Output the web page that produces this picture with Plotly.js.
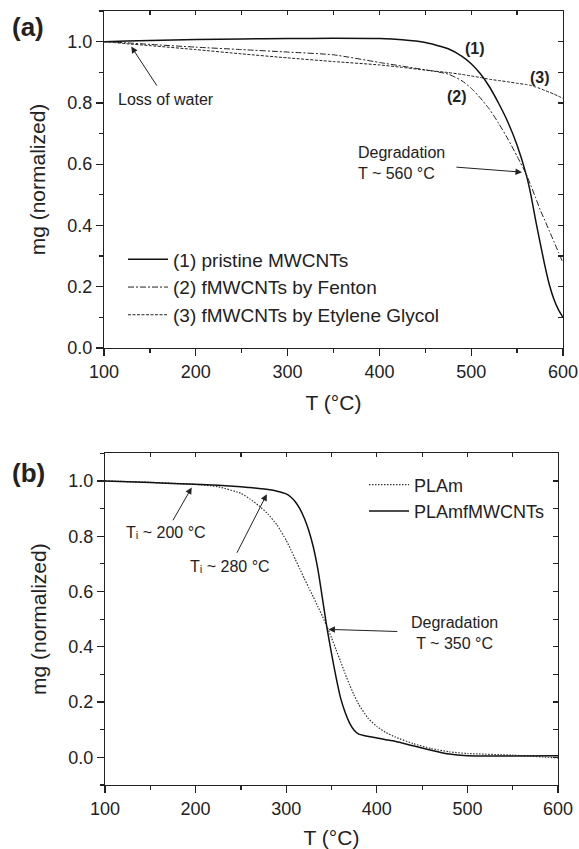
<!DOCTYPE html>
<html><head><meta charset="utf-8">
<script src="https://cdn.plot.ly/plotly-3.0.1.min.js"></script>
<style>html,body{margin:0;padding:0;background:#fff}</style>
</head><body><div id="chart" style="width:579px;height:849px"></div>
<script>
// ---------- Panel (a) data ----------
const tempA = [100,125,150,200,250,300,350,400,425,450,475,490,500,510,520,530,540,550,560,565,570,575,580,585,590,595,600];
const pristine = [1.000,1.002,1.004,1.007,1.009,1.010,1.011,1.010,1.006,0.997,0.977,0.952,0.928,0.895,0.852,0.798,0.737,0.662,0.565,0.500,0.420,0.345,0.272,0.208,0.160,0.125,0.100];
const fenton   = [1.000,0.996,0.991,0.982,0.974,0.966,0.957,0.932,0.920,0.908,0.894,0.872,0.848,0.816,0.779,0.733,0.682,0.626,0.567,0.530,0.492,0.452,0.418,0.383,0.348,0.313,0.278];
const glycol   = [1.000,0.993,0.987,0.974,0.960,0.947,0.935,0.924,0.916,0.907,0.899,0.893,0.888,0.883,0.877,0.873,0.869,0.864,0.860,0.857,0.852,0.847,0.841,0.835,0.829,0.822,0.815];
const namesA = ['(1) pristine MWCNTs','(2) fMWCNTs by Fenton','(3) fMWCNTs by Etylene Glycol'];

// ---------- Panel (b) data ----------
const tempB = [100,150,200,225,250,260,270,280,290,300,305,310,315,320,325,330,335,340,345,350,355,360,365,370,375,380,390,400,410,420,440,460,480,500,550,600];
const plam    = [1.000,0.995,0.987,0.979,0.955,0.935,0.910,0.880,0.840,0.785,0.752,0.717,0.682,0.647,0.613,0.580,0.545,0.510,0.473,0.433,0.390,0.347,0.303,0.262,0.225,0.192,0.143,0.112,0.090,0.074,0.050,0.032,0.020,0.014,0.008,-0.002];
const plamCnt = [1.000,0.994,0.988,0.984,0.979,0.976,0.973,0.969,0.963,0.953,0.942,0.925,0.900,0.865,0.820,0.760,0.680,0.575,0.468,0.376,0.290,0.215,0.163,0.124,0.098,0.084,0.076,0.070,0.064,0.058,0.042,0.026,0.012,0.006,0.005,0.006];
const namesB = ['PLAm','PLAmfMWCNTs'];

const xTicks = [100,200,300,400,500,600];
const xLabel = 'T (°C)';
const yLabel = 'mg (normalized)';

// ---------- geometry ----------
const FW=579, FH=849, L=104, Rm=16, Tm=11, Bm=64;
const W=FW-L-Rm, H=FH-Tm-Bm;
const pX = v => (v-L)/W;
const pY = v => (FH-Bm-v)/H;

const INK='#222';
const FONT='Liberation Sans, Arial, Helvetica, DejaVu Sans, sans-serif';

const base = {showline:true, linecolor:INK, linewidth:1.2, showgrid:false, zeroline:false,
  ticks:'outside', tickcolor:INK, tickwidth:1.2, ticklen:7, tickfont:{size:18, color:INK, family:FONT}};
const minorX = {tick0:100, dtick:50, ticks:'outside', ticklen:4, tickcolor:INK, tickwidth:1.2};
const minorY = {tick0:0, dtick:0.1, ticks:'outside', ticklen:4, tickcolor:INK, tickwidth:1.2};
const mirrorBase = {showline:true, linecolor:INK, linewidth:1.2, showgrid:false, zeroline:false,
  ticks:'inside', tickcolor:INK, tickwidth:1.2, ticklen:4, showticklabels:false};

const traces = [
  {x:tempA, y:pristine, name:namesA[0], mode:'lines', line:{color:'#111', width:1.5, shape:'spline', smoothing:0.5}, xaxis:'x', yaxis:'y', legend:'legend'},
  {x:tempA, y:fenton, name:namesA[1], mode:'lines', line:{color:'#222', width:1, dash:'6px,2px,2px,2px', shape:'spline', smoothing:0.5}, xaxis:'x', yaxis:'y', legend:'legend'},
  {x:tempA, y:glycol, name:namesA[2], mode:'lines', line:{color:'#222', width:1, dash:'3px,1.5px', shape:'spline', smoothing:0.5}, xaxis:'x', yaxis:'y', legend:'legend'},
  {x:tempB, y:plam, name:namesB[0], mode:'lines', line:{color:'#333', width:1.2, dash:'1.5px,1.5px', shape:'spline', smoothing:0.5}, xaxis:'x2', yaxis:'y2', legend:'legend2'},
  {x:tempB, y:plamCnt, name:namesB[1], mode:'lines', line:{color:'#111', width:1.5, shape:'spline', smoothing:0.5}, xaxis:'x2', yaxis:'y2', legend:'legend2'},
  {x:[], y:[], xaxis:'x3', yaxis:'y3', showlegend:false, hoverinfo:'skip'},
  {x:[], y:[], xaxis:'x4', yaxis:'y4', showlegend:false, hoverinfo:'skip'}
];

// label with arrow: text centred at (tx,ty), arrow pointing to (x,y)
function pointer(xr, yr, tx, ty, x, y, text, align, gap){
  return {xref:xr, yref:yr, axref:xr, ayref:yr, x:x, y:y, ax:tx, ay:ty, text:text, align:align||'center',
    font:{size:16, color:INK, family:FONT},
    showarrow:true, arrowhead:2, arrowsize:1.3, arrowwidth:1, arrowcolor:INK, standoff:0, startstandoff:gap||0};
}
function label(xr, yr, x, y, text, size){
  return {xref:xr, yref:yr, x:x, y:y, text:text, showarrow:false, xanchor:'center', yanchor:'middle',
    font:{size:size, color:INK, family:FONT}};
}

const annotations = [
  label('paper','paper', pX(28), pY(27), '<b>(a)</b>', 26),
  label('paper','paper', pX(28), pY(473), '<b>(b)</b>', 26),
  // panel a
  pointer('x','y', 167.7, 0.810, 129.7, 0.984, 'Loss of water', 'center', 5),
  label('x','y', 504.3, 0.978, '<b>(1)</b>', 16),
  label('x','y', 484.3, 0.820, '<b>(2)</b>', 16),
  label('x','y', 575.2, 0.884, '<b>(3)</b>', 16),
  pointer('x','y', 424.0, 0.604, 555.3, 0.574, 'Degradation<br>T ~ 560 °C', 'left', 10),
  // panel b
  pointer('x2','y2', 167.0, 0.812, 195.7, 0.976, 'Tᵢ ~ 200 °C', 'center', 3),
  pointer('x2','y2', 238.0, 0.691, 278.6, 0.952, 'Tᵢ ~ 280 °C', 'center', 4),
  pointer('x2','y2', 485.5, 0.449, 346.6, 0.463, 'Degradation<br>T ~ 350 °C', 'center', 12)
];

const layout = {
  width:FW, height:FH, margin:{l:L, r:Rm, t:Tm, b:Bm},
  paper_bgcolor:'#fff', plot_bgcolor:'rgba(0,0,0,0)',
  font:{family:FONT, color:INK},
  showlegend:true,
  xaxis: Object.assign({}, base, {domain:[0,1], anchor:'y', range:[100,600], tickvals:xTicks, minor:minorX,
    automargin:false, title:{text:xLabel, font:{size:21, family:FONT, color:INK}, standoff:14}}),
  yaxis: Object.assign({}, base, {domain:[pY(348),1], anchor:'x', range:[0,1.1], tick0:0, dtick:0.2, tickformat:'.1f', minor:minorY,
    automargin:false, title:{text:yLabel, font:{size:21, family:FONT, color:INK}, standoff:15}}),
  xaxis3: Object.assign({}, mirrorBase, {overlaying:'x', anchor:'y', side:'top', range:[100,600], tick0:100, dtick:50}),
  yaxis3: Object.assign({}, mirrorBase, {overlaying:'y', anchor:'x', side:'right', range:[0,1.1], tick0:0, dtick:0.1, ticklen:5}),
  xaxis2: Object.assign({}, base, {domain:[pX(105), pX(558)], anchor:'y2', range:[100,600], tickvals:xTicks, minor:minorX,
    automargin:false, title:{text:xLabel, font:{size:21, family:FONT, color:INK}, standoff:15}}),
  yaxis2: Object.assign({}, base, {domain:[0, pY(453.3)], anchor:'x2', range:[-0.1,1.1], tick0:0, dtick:0.2, tickformat:'.1f', minor:minorY,
    automargin:false, title:{text:yLabel, font:{size:21, family:FONT, color:INK}, standoff:15}}),
  xaxis4: Object.assign({}, mirrorBase, {overlaying:'x2', anchor:'y2', side:'top', range:[100,600], tick0:100, dtick:50}),
  yaxis4: Object.assign({}, mirrorBase, {overlaying:'y2', anchor:'x2', side:'right', range:[-0.1,1.1], tick0:0, dtick:0.1, ticklen:5}),
  legend: {x:pX(123), y:pY(240.5), xanchor:'left', yanchor:'top', bgcolor:'rgba(0,0,0,0)', borderwidth:0,
    font:{size:19, color:INK, family:FONT}, itemwidth:40, tracegroupgap:0},
  legend2: {x:pX(364), y:pY(466.5), xanchor:'left', yanchor:'top', bgcolor:'rgba(0,0,0,0)', borderwidth:0,
    font:{size:18, color:INK, family:FONT}, itemwidth:40, tracegroupgap:0},
  annotations: annotations
};

Plotly.newPlot('chart', traces, layout, {displayModeBar:false, staticPlot:true});
</script>
</body></html>
